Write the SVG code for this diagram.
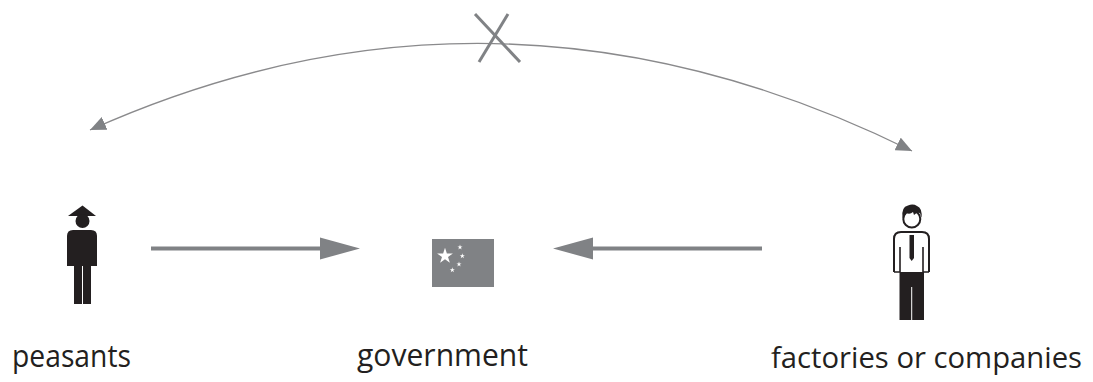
<svg xmlns="http://www.w3.org/2000/svg" xmlns:xlink="http://www.w3.org/1999/xlink" width="1093" height="382" viewBox="0 0 1093 382">
<style>
.lbl{font-family:"Open Sans","Noto Sans","Liberation Sans",sans-serif;font-size:30.5px;fill:#231f20}
.ink{fill:#231f20}
.arc{fill:none;stroke:#8a8a8c;stroke-width:1.3}
.bar{stroke:#808285;stroke-width:4;fill:none}
.head{fill:#808285}
</style>
<defs>
<marker id="ah" viewBox="0 0 16 14" refX="16" refY="7" markerWidth="16" markerHeight="14" markerUnits="userSpaceOnUse" orient="auto-start-reverse">
<path d="M0,0 L16,7 L0,14 Z" fill="#808285"/>
</marker>
<polygon id="star" points="0,-1 0.2245,-0.309 0.951,-0.309 0.3633,0.118 0.5878,0.809 0,0.382 -0.5878,0.809 -0.3633,0.118 -0.951,-0.309 -0.2245,-0.309" fill="#ffffff"/>
</defs>
<rect width="1093" height="382" fill="#ffffff"/>
<g id="connectors">
<path class="arc" d="M90,130 Q499,-53 912,151" marker-start="url(#ah)" marker-end="url(#ah)"/>
<g id="cross" stroke="#808285" stroke-width="3" stroke-linecap="butt">
<line x1="475" y1="14" x2="520" y2="62"/>
<line x1="508" y1="14" x2="479" y2="62"/>
</g>
<line class="bar" x1="151" y1="248.5" x2="322" y2="248.5"/>
<polygon class="head" points="320,237.5 360,248.5 320,259.5"/>
<line class="bar" x1="762" y1="248.5" x2="591" y2="248.5"/>
<polygon class="head" points="593,237.5 553,248.5 593,259.5"/>
</g>
<g id="peasants">
<path class="ink" d="M68,216 L82.5,205.5 L96,216 Z"/>
<circle class="ink" cx="82.5" cy="221" r="7"/>
<path class="ink" d="M67,266 L67,236 Q67,230 73,230 L91,230 Q97,230 97,236 L97,266 Z"/>
<path class="ink" d="M74,264 L82,264 L82,304 L74,304 Z M83,264 L91,264 L91,304 L83,304 Z"/>
<text class="lbl" x="12" y="367" textLength="119" lengthAdjust="spacingAndGlyphs">peasants</text>
</g>
<g id="government">
<rect x="432" y="239" width="62" height="48" fill="#808285"/>
<use xlink:href="#star" transform="translate(445,256) scale(8.3)"/>
<use xlink:href="#star" transform="translate(460,247.3) scale(2.7)"/>
<use xlink:href="#star" transform="translate(462.3,256) scale(2.7)"/>
<use xlink:href="#star" transform="translate(459,264.3) scale(2.7)"/>
<use xlink:href="#star" transform="translate(452.3,270) scale(2.7)"/>
<text class="lbl" x="357" y="366" textLength="171" lengthAdjust="spacingAndGlyphs">government</text>
</g>
<g id="factories">
<path d="M899.5,268 L924,268 L924,320 L912.2,320 L912.2,287 L911.2,287 L911.2,320 L899.5,320 Z" class="ink"/>
<path d="M894,272 L894,239 Q894,232 901,232 L922,232 Q929,232 929,239 L929,272" fill="#ffffff" stroke="#231f20" stroke-width="2"/>
<path d="M900,247 L900,272 M923,247 L923,272 M894,272 L900,272 M923,272 L929,272" fill="none" stroke="#231f20" stroke-width="1.6"/>
<path class="ink" d="M909.5,235 L914,235 L914,258 L911.7,261 L909.5,258 Z"/>
<circle cx="911.8" cy="219" r="8.5" fill="#ffffff" stroke="#231f20" stroke-width="2"/>
<path class="ink" d="M902.5,218 Q901,207 908,205.5 Q913,203.5 917,206 Q922.5,208 921.5,218 L920,213 Q917,212 914,215 L913,212 Q910,215 906,213 L904,217 Z"/>
<text class="lbl" x="771" y="368" style="font-size:29.5px" textLength="311" lengthAdjust="spacingAndGlyphs">factories or companies</text>
</g>
</svg>
